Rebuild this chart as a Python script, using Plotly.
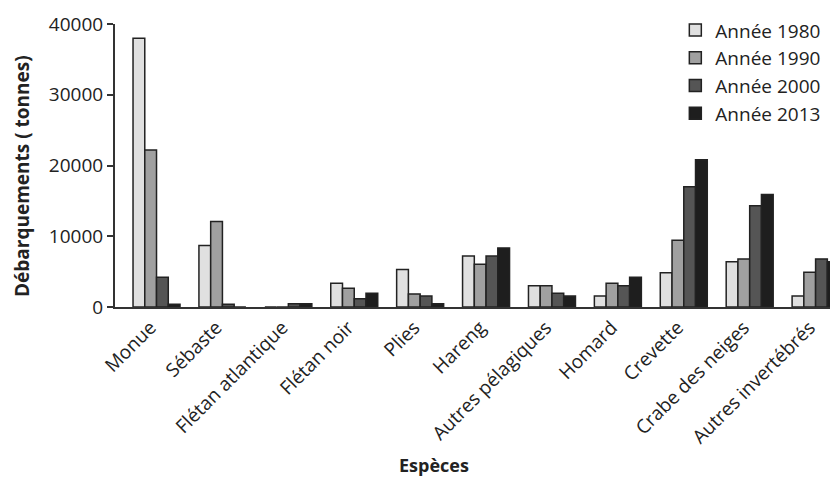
import plotly.graph_objects as go

categories = ["Monue", "Sébaste", "Flétan atlantique", "Flétan noir", "Plies", "Hareng",
              "Autres pélagiques", "Homard", "Crevette", "Crabe des neiges", "Autres invertébrés"]
series_names = ["Année 1980", "Année 1990", "Année 2000", "Année 2013"]
v1980 = [38000, 8700, 0, 3350, 5300, 7200, 3000, 1550, 4850, 6400, 1550]
v1990 = [22200, 12100, 0, 2650, 1850, 6050, 3000, 3350, 9450, 6800, 4900]
v2000 = [4200, 400, 450, 1150, 1550, 7200, 1950, 3000, 17000, 14300, 6800]
v2013 = [400, 0, 450, 1950, 450, 8350, 1550, 4200, 20800, 15900, 6400]
colors = ["#e0e0e0", "#a0a0a0", "#555555", "#1e1e1e"]

FONT = "Open Sans"
TXT = "#222222"
fig = go.Figure()
for name, vals, col in zip(series_names, [v1980, v1990, v2000, v2013], colors):
    fig.add_trace(go.Bar(
        x=list(range(len(categories))), y=vals, name=name, legendgroup=name,
        marker=dict(color=col, line=dict(color="#222222", width=1.5)),
    ))

fig.update_layout(
    width=830, height=470,
    margin=dict(l=107, r=0, t=16, b=171, autoexpand=False),
    paper_bgcolor="white", plot_bgcolor="white",
    barmode="group", bargap=0.287, bargroupgap=0,
    font=dict(family=FONT, size=18, color=TXT),
    showlegend=True,
    legend=dict(x=0.775, y=1.045, xanchor="left", yanchor="top",
                traceorder="grouped", tracegroupgap=0,
                font=dict(family=FONT, size=19, color=TXT),
                bgcolor="rgba(0,0,0,0)"),
    xaxis=dict(
        range=[-0.63, 10.34], tickmode="array",
        tickvals=list(range(len(categories))), ticktext=categories,
        tickangle=-45, showline=True, linecolor="#333333", linewidth=2,
        ticks="", showgrid=False, zeroline=False, automargin=False,
        ticklabelshift=-6,
        tickfont=dict(family=FONT, size=19, color=TXT),
    ),
    yaxis=dict(
        range=[0, 40000], tickvals=[0, 10000, 20000, 30000, 40000],
        tickformat="d", showline=True, linecolor="#333333", linewidth=2,
        ticks="outside", ticklen=6, tickcolor="#333333", tickwidth=2,
        showgrid=False, zeroline=False, automargin=False,
        tickfont=dict(family=FONT, size=19, color=TXT),
    ),
    annotations=[
        dict(text="<b>Débarquements ( tonnes)</b>", xref="paper", yref="paper",
             x=-0.1286, y=0.463, xanchor="center", yanchor="middle", textangle=-90,
             showarrow=False, font=dict(family=FONT, size=19, color=TXT)),
        dict(text="<b>Espèces</b>", xref="paper", yref="paper",
             x=0.441, y=-0.558, xanchor="center", yanchor="middle",
             showarrow=False, font=dict(family=FONT, size=18, color=TXT)),
    ],
)
fig.write_html("out.html")
